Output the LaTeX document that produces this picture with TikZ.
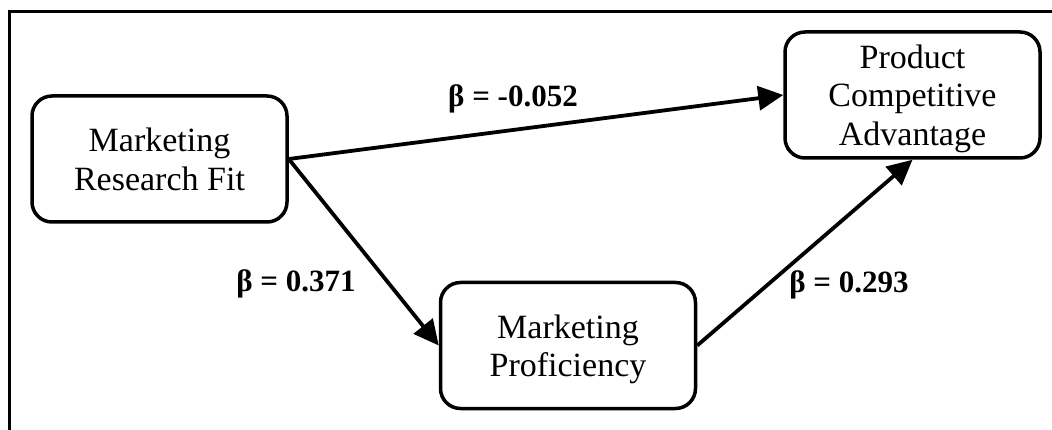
\documentclass[tikz,border=0pt]{standalone}
\usepackage{fontspec}
\setmainfont{Liberation Serif}
\usetikzlibrary{arrows.meta}
\begin{document}
\begin{tikzpicture}[x=1pt,y=-1pt,
  construct/.style={draw, line width=3.5pt, rounded corners=20pt,
    minimum width=255pt, minimum height=126pt, align=center,
    font=\fontsize{34}{38.5}\selectfont, inner sep=0pt},
  path/.style={line width=3.8pt, -{Triangle[length=25pt,width=24pt]}},
  coef/.style={font=\fontsize{31}{36}\selectfont\bfseries, inner sep=0pt, anchor=base}]
  \useasboundingbox (0,0) rectangle (1052,430);
  % frame: only its top and left edges fall inside the page
  \draw[line width=3pt] (9,430) -- (9,12) -- (1052,12);
  % constructs of the model
  \node[construct] (mrf) at (159.5,159) {Marketing\\\smash{Research Fit}};
  \node[construct] (pca) at (912.5,95) {Product\\Competitive\\\smash{Advantage}};
  \node[construct] (mp) at (568,345.5) {Marketing\\\smash{Proficiency}};
  % structural paths
  \draw[path] (mrf.east) -- (pca.west);
  \draw[path] (mrf.east) -- (mp.west);
  \draw[path] (mp.east) -- (pca.south);
  % path coefficients
  \node[coef] (b1) at (513,107) {β = -0.052};
  \node[coef] (b2) at (296,292) {β = 0.371};
  \node[coef] (b3) at (849,293) {β = 0.293};
\end{tikzpicture}
\end{document}
